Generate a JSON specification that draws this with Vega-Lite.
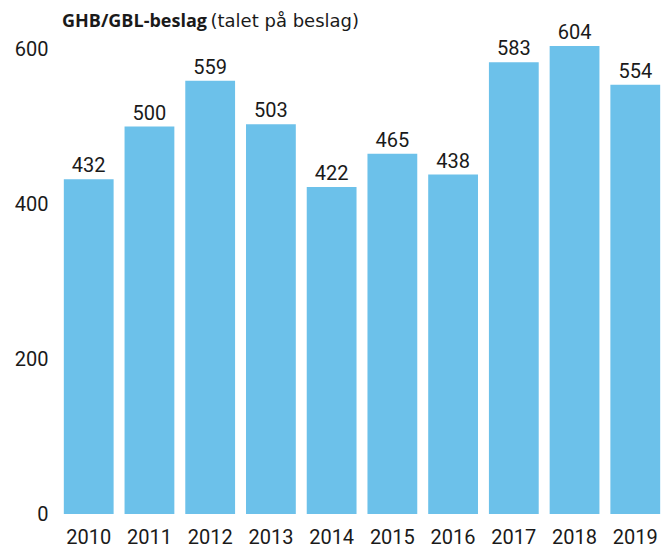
{
  "$schema": "https://vega.github.io/schema/vega-lite/v6.json",
  "width": 600,
  "height": 465,
  "autosize": {"type": "none"},
  "padding": {"left": 62, "top": 49, "right": 0, "bottom": 32},
  "background": "white",
  "config": {
    "view": {"stroke": null},
    "font": "Roboto",
    "axis": {"labelFont": "Roboto", "labelFontSize": 20, "labelColor": "#1a1a1a", "grid": false, "ticks": false, "domain": false}
  },
  "title": {
    "text": "GHB/GBL-beslag",
    "anchor": "start",
    "frame": "group",
    "font": "Open Sans",
    "fontSize": 18,
    "fontWeight": "bold",
    "color": "#1a1a1a",
    "baseline": "alphabetic",
    "offset": 0,
    "dy": 33
  },
  "data": {
    "values": [
      {"year": "2010", "value": 432},
      {"year": "2011", "value": 500},
      {"year": "2012", "value": 559},
      {"year": "2013", "value": 503},
      {"year": "2014", "value": 422},
      {"year": "2015", "value": 465},
      {"year": "2016", "value": 438},
      {"year": "2017", "value": 583},
      {"year": "2018", "value": 604},
      {"year": "2019", "value": 554}
    ]
  },
  "encoding": {
    "x": {
      "field": "year",
      "type": "nominal",
      "scale": {"paddingInner": 0.18, "paddingOuter": 0.03},
      "axis": {"title": null, "labelAngle": 0, "labelPadding": 13, "labelBaseline": "top"}
    },
    "y": {
      "field": "value",
      "type": "quantitative",
      "scale": {"domain": [0, 600], "nice": false, "clamp": false},
      "axis": {
        "values": [0, 200, 400, 600],
        "labelPadding": 14,
        "title": "(talet på beslag)",
        "titleAngle": 0,
        "titleAlign": "left",
        "titleBaseline": "alphabetic",
        "titleFont": "DejaVu Sans",
        "titleFontSize": 18,
        "titleFontWeight": "normal",
        "titleColor": "#1a1a1a",
        "titleX": 148,
        "titleY": -23
      }
    }
  },
  "layer": [
    {"mark": {"type": "bar", "color": "#6CC1EA"}},
    {
      "mark": {"type": "text", "baseline": "alphabetic", "dy": -7, "fontSize": 20, "color": "#1a1a1a", "font": "Roboto"},
      "encoding": {"text": {"field": "value", "type": "quantitative"}}
    }
  ]
}
